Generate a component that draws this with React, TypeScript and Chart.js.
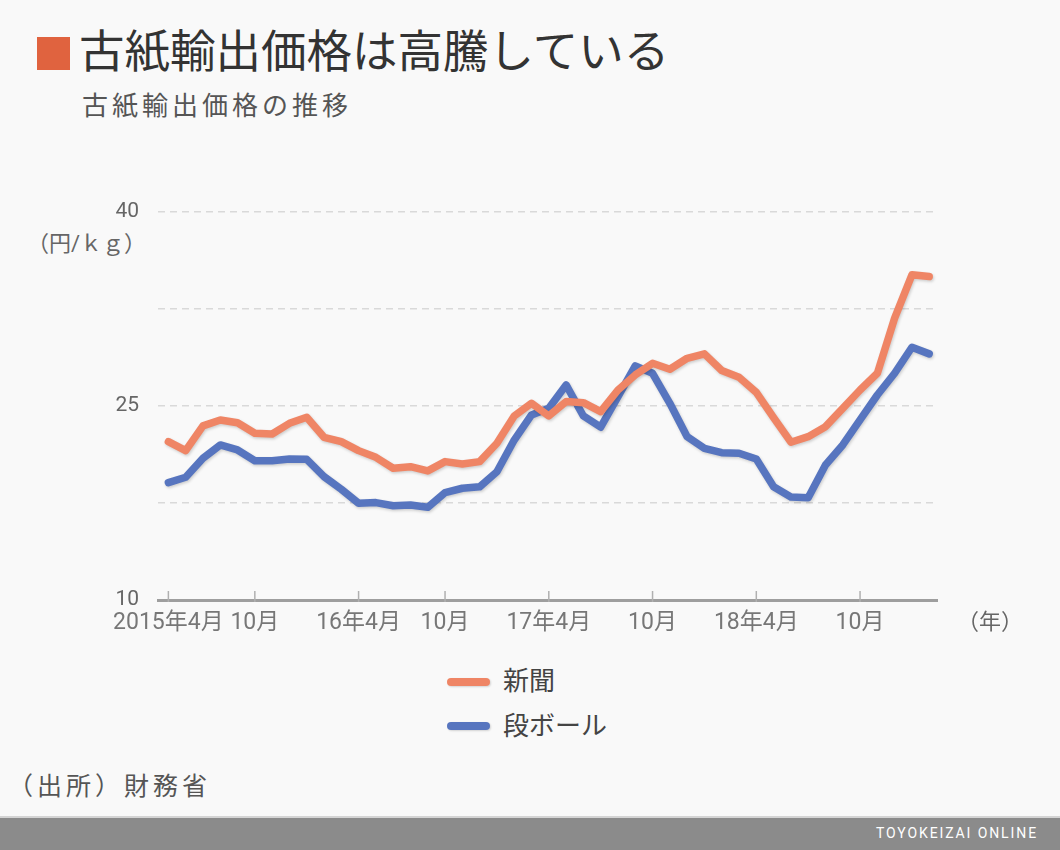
import React, { useEffect, useRef } from "react";
import { Chart, registerables } from "chart.js";

Chart.register(...registerables);

const months = [
  "2015-04","2015-05","2015-06","2015-07","2015-08","2015-09","2015-10","2015-11","2015-12",
  "2016-01","2016-02","2016-03","2016-04","2016-05","2016-06","2016-07","2016-08","2016-09","2016-10","2016-11","2016-12",
  "2017-01","2017-02","2017-03","2017-04","2017-05","2017-06","2017-07","2017-08","2017-09","2017-10","2017-11","2017-12",
  "2018-01","2018-02","2018-03","2018-04","2018-05","2018-06","2018-07","2018-08","2018-09","2018-10","2018-11","2018-12",
];

const newspaper = [
  22.24, 21.55, 23.46, 23.92, 23.71, 22.89, 22.84, 23.66, 24.13, 22.58,
  22.24, 21.55, 21.03, 20.19, 20.31, 19.98, 20.7, 20.52, 20.7, 22.12,
  24.23, 25.21, 24.23, 25.34, 25.26, 24.56, 26.24, 27.4, 28.3, 27.84,
  28.69, 29.03, 27.74, 27.22, 26.05, 24.1, 22.2, 22.63, 23.4, 24.82,
  26.24, 27.53, 31.79, 35.14, 35.01,
];

const cardboard = [
  19.07, 19.49, 20.96, 21.99, 21.6, 20.77, 20.77, 20.9, 20.88, 19.54,
  18.56, 17.48, 17.53, 17.29, 17.35, 17.17, 18.3, 18.64, 18.75, 19.92,
  22.37, 24.31, 24.82, 26.63, 24.23, 23.36, 25.72, 28.1, 27.53, 25.21,
  22.63, 21.73, 21.39, 21.35, 20.9, 18.76, 17.96, 17.91, 20.44, 21.99,
  23.92, 25.85, 27.53, 29.54, 29.03,
];

const seriesNames = ["新聞", "段ボール"];
const tickIndex = [0, 5, 11, 16, 22, 28, 34, 40];
const tickLabels = ["2015年4月", "10月", "16年4月", "10月", "17年4月", "10月", "18年4月", "10月"];
const yLabels = [10, 25, 40];

const ORANGE = "#EF8565";
const BLUE = "#5775BF";
const FONT = "Roboto, 'Noto Sans CJK JP', sans-serif";

const shadowPlugin = {
  id: "lineShadow",
  beforeDatasetDraw(chart: any) {
    const ctx = chart.ctx;
    ctx.save();
    ctx.shadowColor = "rgba(0,0,0,0.18)";
    ctx.shadowBlur = 3;
    ctx.shadowOffsetX = 1;
    ctx.shadowOffsetY = 1.5;
  },
  afterDatasetDraw(chart: any) {
    chart.ctx.restore();
  },
};

const tickMarkPlugin = {
  id: "tickMarks",
  beforeDatasetsDraw(chart: any) {
    const x = chart.scales.x;
    const ctx = chart.ctx;
    const bottom = chart.chartArea.bottom;
    ctx.save();
    ctx.strokeStyle = "#b0b0b0";
    ctx.lineWidth = 1.5;
    tickIndex.forEach((i) => {
      const px = x.getPixelForValue(i);
      ctx.beginPath();
      ctx.moveTo(px, bottom - 9);
      ctx.lineTo(px, bottom + 2);
      ctx.stroke();
    });
    ctx.restore();
  },
};

function LineChart() {
  const ref = useRef<HTMLCanvasElement>(null);
  useEffect(() => {
    if (!ref.current) return;
    const chart = new Chart(ref.current, {
      type: "line",
      data: {
        labels: months,
        datasets: [
          {
            label: seriesNames[0],
            data: newspaper.map((y, i) => ({ x: i, y })),
            borderColor: ORANGE,
            backgroundColor: ORANGE,
            borderWidth: 7.5,
            pointRadius: 0,
            tension: 0,
            borderJoinStyle: "round",
            borderCapStyle: "round",
          },
          {
            label: seriesNames[1],
            data: cardboard.map((y, i) => ({ x: i, y })),
            borderColor: BLUE,
            backgroundColor: BLUE,
            borderWidth: 7.5,
            pointRadius: 0,
            tension: 0,
            borderJoinStyle: "round",
            borderCapStyle: "round",
          },
        ],
      },
      options: {
        animation: false,
        responsive: false,
        devicePixelRatio: 1,
        layout: { padding: { top: 32, right: 123, left: 0, bottom: 0 } },
        plugins: { legend: { display: false }, tooltip: { enabled: false } },
        scales: {
          x: {
            type: "linear",
            min: -0.6,
            max: 44.45,
            afterBuildTicks: (scale: any) => {
              scale.ticks = tickIndex.map((v) => ({ value: v }));
            },
            afterFit: (scale: any) => {
              scale.height = 50;
            },
            ticks: {
              autoSkip: false,
              maxRotation: 0,
              padding: 9,
              color: "#777",
              font: { family: FONT, size: 23 },
              callback: (v: any) => {
                const k = tickIndex.indexOf(Number(v));
                return k >= 0 ? tickLabels[k] : "";
              },
            },
            grid: { drawOnChartArea: false, drawTicks: false },
            border: { display: true, color: "#9e9e9e", width: 3 },
          },
          y: {
            min: 10,
            max: 40,
            afterFit: (scale: any) => {
              scale.width = 158;
            },
            ticks: {
              stepSize: 7.5,
              padding: 19,
              color: "#666",
              font: { family: FONT, size: 21 },
              callback: (v: any) => (yLabels.includes(Number(v)) ? String(v) : ""),
            },
            grid: { color: "#d9d9d9", lineWidth: 1.5, drawTicks: false },
            border: { display: false, dash: [7, 5] },
          },
        },
      },
      plugins: [shadowPlugin, tickMarkPlugin],
    } as any);
    return () => chart.destroy();
  }, []);
  return <canvas ref={ref} width={1060} height={470} style={{ display: "block" }} />;
}

export default function App() {
  const text = (s: React.CSSProperties): React.CSSProperties => ({
    position: "absolute",
    whiteSpace: "nowrap",
    fontFamily: FONT,
    lineHeight: 1,
    ...s,
  });
  return (
    <div
      style={{
        position: "absolute",
        left: 0,
        top: 0,
        width: 1060,
        height: 850,
        background: "#f9f9f9",
        overflow: "hidden",
        fontFamily: FONT,
      }}
    >
      <div style={{ position: "absolute", left: 37, top: 37, width: 33, height: 33, background: "#E0633F" }} />
      <div style={text({ left: 79, top: 30, fontSize: 45.5, color: "#333" })}>古紙輸出価格は高騰している</div>
      <div style={text({ left: 82, top: 93, fontSize: 26, color: "#555", letterSpacing: 4 })}>古紙輸出価格の推移</div>
      <div style={text({ left: 27, top: 233, fontSize: 22, color: "#666" })}>（円/ｋｇ）</div>
      <div style={{ position: "absolute", left: 0, top: 180, width: 1060, height: 470 }}>
        <LineChart />
      </div>
      <div style={text({ left: 957, top: 611, fontSize: 22, color: "#666" })}>（年）</div>
      <div style={{ position: "absolute", left: 447, top: 678, width: 43, height: 8, borderRadius: 4, background: ORANGE, boxShadow: "1px 1px 2px rgba(0,0,0,0.15)" }} />
      <div style={text({ left: 503, top: 668, fontSize: 26, color: "#444" })}>{seriesNames[0]}</div>
      <div style={{ position: "absolute", left: 447, top: 722, width: 43, height: 8, borderRadius: 4, background: BLUE, boxShadow: "1px 1px 2px rgba(0,0,0,0.15)" }} />
      <div style={text({ left: 503, top: 713, fontSize: 26, color: "#444" })}>{seriesNames[1]}</div>
      <div style={text({ left: 8, top: 774, fontSize: 25, color: "#555", letterSpacing: 4 })}>（出所）財務省</div>
      <div style={{ position: "absolute", left: 0, top: 816, width: 1060, height: 2, background: "#d4d4d4" }} />
      <div style={{ position: "absolute", left: 0, top: 818, width: 1060, height: 32, background: "#8b8b8b" }} />
      <div style={text({ right: 22, top: 826, fontSize: 14, color: "#fff", letterSpacing: 1.9 })}>TOYOKEIZAI ONLINE</div>
    </div>
  );
}
